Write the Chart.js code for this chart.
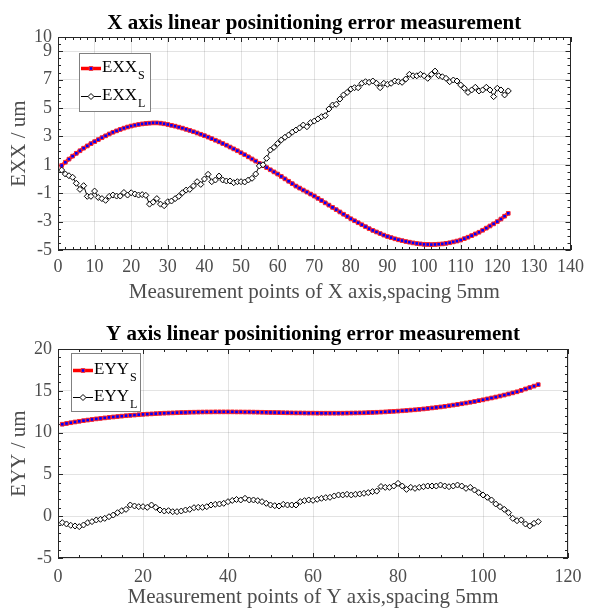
<!DOCTYPE html>
<html>
<head>
<meta charset="utf-8">
<script src="https://cdn.jsdelivr.net/npm/chart.js@4.4.1/dist/chart.umd.min.js"></script>
<style>
  body { margin: 0; background: #fff; }
  canvas { display: block; }
</style>
</head>
<body>
<canvas id="chartX" width="590" height="305"></canvas>
<canvas id="chartY" width="590" height="305"></canvas>
<script>
// X axis: errors at measurement points 1..123
const exxS = [
  0.95, 1.18, 1.40, 1.61, 1.81, 1.99, 2.17, 2.33, 2.49, 2.63,
  2.77, 2.91, 3.04, 3.17, 3.29, 3.39, 3.49, 3.58, 3.66, 3.73,
  3.79, 3.84, 3.88, 3.91, 3.93, 3.95, 3.95, 3.93, 3.89, 3.84,
  3.78, 3.72, 3.65, 3.58, 3.50, 3.42, 3.33, 3.24, 3.15, 3.05,
  2.95, 2.84, 2.73, 2.62, 2.50, 2.38, 2.25, 2.12, 1.99, 1.85,
  1.71, 1.56, 1.41, 1.26, 1.10, 0.95, 0.80, 0.65, 0.50, 0.35,
  0.18, 0.01, -0.16, -0.33, -0.50, -0.64, -0.78, -0.92, -1.06, -1.20,
  -1.36, -1.52, -1.68, -1.84, -2.00, -2.16, -2.32, -2.48, -2.64, -2.80,
  -2.94, -3.08, -3.22, -3.36, -3.50, -3.62, -3.73, -3.84, -3.95, -4.05,
  -4.13, -4.21, -4.28, -4.34, -4.40, -4.45, -4.50, -4.54, -4.57, -4.60,
  -4.61, -4.62, -4.61, -4.59, -4.57, -4.53, -4.49, -4.43, -4.37, -4.30,
  -4.20, -4.10, -3.99, -3.87, -3.75, -3.61, -3.46, -3.31, -3.16, -3.00,
  -2.82, -2.62, -2.42
];
const exxL = [
  0.63, 0.35, 0.23, 0.12, -0.30, -0.73, -0.47, -1.22, -1.22, -0.85,
  -1.30, -1.38, -1.50, -1.22, -1.13, -1.20, -1.20, -0.95, -1.13, -0.97,
  -1.06, -1.13, -1.10, -1.15, -1.77, -1.63, -1.38, -1.77, -1.88, -1.60,
  -1.55, -1.38, -1.22, -0.97, -0.78, -0.73, -0.49, -0.19, -0.38, 0.00,
  0.33, -0.19, -0.07, 0.21, -0.07, -0.14, -0.14, -0.26, -0.19, -0.19,
  -0.21, -0.07, 0.05, 0.35, 0.92, 1.00, 1.46, 2.04, 2.23, 2.50,
  2.75, 2.94, 3.10, 3.30, 3.45, 3.60, 3.80, 3.68, 3.97, 4.08,
  4.23, 4.39, 4.46, 4.93, 5.21, 5.26, 5.63, 5.92, 6.10, 6.34,
  6.43, 6.43, 6.74, 6.85, 6.81, 6.90, 6.74, 6.43, 6.74, 6.67,
  6.74, 6.90, 6.85, 6.81, 7.04, 7.37, 7.27, 7.27, 7.37, 7.27,
  7.09, 7.37, 7.60, 7.27, 7.20, 7.09, 6.85, 6.97, 6.90, 6.62,
  6.39, 6.10, 6.27, 6.46, 6.20, 6.27, 6.46, 6.27, 5.80, 6.39,
  6.27, 5.92, 6.20
];

// Y axis: errors at measurement points 1..113
const eyyS = [
  11.00, 11.09, 11.18, 11.27, 11.35, 11.43, 11.50, 11.57, 11.64, 11.70,
  11.76, 11.82, 11.87, 11.92, 11.97, 12.02, 12.06, 12.10, 12.14, 12.18,
  12.21, 12.24, 12.27, 12.30, 12.32, 12.34, 12.36, 12.38, 12.40, 12.41,
  12.43, 12.44, 12.45, 12.46, 12.47, 12.47, 12.48, 12.48, 12.48, 12.48,
  12.48, 12.47, 12.47, 12.46, 12.46, 12.45, 12.44, 12.43, 12.42, 12.41,
  12.40, 12.39, 12.38, 12.37, 12.36, 12.35, 12.35, 12.34, 12.33, 12.33,
  12.32, 12.32, 12.32, 12.32, 12.32, 12.32, 12.32, 12.33, 12.34, 12.35,
  12.36, 12.37, 12.39, 12.41, 12.43, 12.45, 12.48, 12.51, 12.54, 12.57,
  12.61, 12.65, 12.69, 12.73, 12.78, 12.83, 12.89, 12.95, 13.01, 13.07,
  13.14, 13.21, 13.29, 13.37, 13.45, 13.54, 13.63, 13.72, 13.82, 13.92,
  14.03, 14.14, 14.25, 14.37, 14.49, 14.62, 14.75, 14.88, 15.05, 15.22,
  15.39, 15.56, 15.74
];
const eyyL = [
  -0.77, -0.93, -1.09, -1.17, -1.25, -1.05, -0.77, -0.65, -0.45, -0.37,
  -0.26, -0.06, 0.14, 0.42, 0.66, 0.82, 1.34, 1.22, 1.14, 1.14,
  1.06, 1.34, 1.06, 0.74, 0.62, 0.66, 0.54, 0.54, 0.62, 0.74,
  0.82, 1.02, 1.06, 1.06, 1.14, 1.34, 1.42, 1.46, 1.54, 1.74,
  1.88, 2.00, 1.94, 2.14, 1.94, 1.94, 1.86, 1.74, 1.54, 1.34,
  1.26, 1.22, 1.42, 1.34, 1.34, 1.34, 1.74, 1.86, 1.94, 1.90,
  2.02, 2.14, 2.22, 2.26, 2.42, 2.54, 2.54, 2.62, 2.54, 2.62,
  2.66, 2.74, 2.82, 2.94, 3.00, 3.55, 3.45, 3.45, 3.61, 3.93,
  3.61, 3.21, 3.45, 3.33, 3.45, 3.53, 3.61, 3.61, 3.61, 3.73,
  3.61, 3.53, 3.61, 3.73, 3.61, 3.33, 3.45, 3.13, 2.82, 2.54,
  2.26, 1.94, 1.46, 1.14, 0.82, 0.42, -0.26, -0.54, -0.45, -0.93,
  -1.17, -0.85, -0.65
];

const xTicksX = [0, 10, 20, 30, 40, 50, 60, 70, 80, 90, 100, 110, 120, 130, 140];
const yTicksX = [-5, -3, -1, 1, 3, 5, 7, 9, 10];
const xTicksY = [0, 20, 40, 60, 80, 100, 120];
const yTicksY = [-5, 0, 5, 10, 15, 20];

Chart.defaults.font.family = "'Liberation Serif', 'Times New Roman', serif";

// title centred over the plot box (matlab style)
const areaTitle = {
  id: 'areaTitle',
  afterDraw(chart, args, o) {
    const { ctx, chartArea: a } = chart;
    ctx.save();
    ctx.font = "bold 21px 'Liberation Serif'";
    ctx.fillStyle = '#000';
    ctx.textAlign = 'center';
    ctx.textBaseline = 'alphabetic';
    ctx.fillText(o.text, (a.left + a.right) / 2, o.y);
    ctx.restore();
  }
};

// box around the axes with inward ticks on all four sides
const frameTicks = {
  id: 'frameTicks',
  beforeDatasetsDraw(chart, args, o) {
    const { ctx, chartArea: a, scales } = chart;
    const sx = scales.x, sy = scales.y;
    ctx.save();
    ctx.strokeStyle = '#262626';
    ctx.lineWidth = 1;
    ctx.beginPath();
    const vmark = (v, len) => {
      const px = Math.round(sx.getPixelForValue(v)) + 0.5;
      ctx.moveTo(px, a.bottom); ctx.lineTo(px, a.bottom - len);
      ctx.moveTo(px, a.top); ctx.lineTo(px, a.top + len);
    };
    const hmark = (v, len) => {
      const py = Math.round(sy.getPixelForValue(v)) + 0.5;
      ctx.moveTo(a.left, py); ctx.lineTo(a.left + len, py);
      ctx.moveTo(a.right, py); ctx.lineTo(a.right - len, py);
    };
    for (let v = sx.min; v <= sx.max + 1e-6; v += o.xMinor) vmark(v, 3);
    for (let v = sy.min; v <= sy.max + 1e-6; v += o.yMinor) hmark(v, 3);
    sx.ticks.forEach(t => vmark(t.value, 5));
    sy.ticks.forEach(t => hmark(t.value, 5));
    ctx.stroke();
    ctx.strokeRect(Math.round(a.left) + 0.5, Math.round(a.top) + 0.5,
      Math.round(a.width) - 1, Math.round(a.height) - 1);
    ctx.restore();
  }
};

// legend box with subscripted names
const boxLegend = {
  id: 'boxLegend',
  afterDatasetsDraw(chart, args, o) {
    const { ctx, chartArea: a } = chart;
    const x0 = Math.round(a.left + o.dx), y0 = Math.round(a.top + o.dy);
    ctx.save();
    ctx.fillStyle = '#fff';
    ctx.fillRect(x0, y0, o.w, o.h);
    ctx.strokeStyle = '#808080';
    ctx.lineWidth = 1;
    ctx.strokeRect(x0 + 0.5, y0 + 0.5, o.w, o.h);
    chart.data.datasets.forEach((ds, i) => {
      const cy = Math.round(y0 + o.rows[i]) + 0.5;
      ctx.strokeStyle = ds.borderColor;
      ctx.lineWidth = ds.borderWidth;
      ctx.beginPath();
      ctx.moveTo(x0 + 2, cy);
      ctx.lineTo(x0 + 22, cy);
      ctx.stroke();
      const mx = x0 + 12, r = ds.pointRadius;
      ctx.beginPath();
      if (ds.pointStyle === 'rect') {
        const h = r * Math.SQRT1_2;
        ctx.rect(mx - h, cy - h, 2 * h, 2 * h);
      } else {
        ctx.moveTo(mx - r, cy); ctx.lineTo(mx, cy - r);
        ctx.lineTo(mx + r, cy); ctx.lineTo(mx, cy + r);
        ctx.closePath();
      }
      ctx.fillStyle = ds.pointBackgroundColor;
      ctx.fill();
      ctx.strokeStyle = ds.pointBorderColor;
      ctx.lineWidth = ds.pointBorderWidth;
      ctx.stroke();
      const parts = ds.label.split('_');
      ctx.fillStyle = '#000';
      ctx.textBaseline = 'alphabetic';
      ctx.font = "17px 'Liberation Serif'";
      ctx.fillText(parts[0], x0 + 23, cy + 3);
      const w = ctx.measureText(parts[0]).width;
      ctx.font = "12px 'Liberation Serif'";
      ctx.fillText(parts[1], x0 + 23 + w + 1, cy + 10);
    });
    ctx.restore();
  }
};

function points(arr) {
  return arr.map((v, i) => ({ x: i + 1, y: v }));
}

function makeChart(id, c) {
  const tickFont = { size: 18 };
  const titleFont = { size: 21 };
  return new Chart(document.getElementById(id), {
    type: 'line',
    data: {
      datasets: [
        {
          label: c.names[0], data: points(c.s), order: 2,
          borderColor: '#ff0000', borderWidth: 3.5,
          pointStyle: 'rect', pointRadius: 2.6,
          pointBackgroundColor: '#0000ff', pointBorderColor: '#ff2a2a', pointBorderWidth: 1
        },
        {
          label: c.names[1], data: points(c.l), order: 1,
          borderColor: '#000000', borderWidth: 1,
          pointStyle: 'rectRot', pointRadius: 3,
          pointBackgroundColor: '#ffffff', pointBorderColor: '#000000', pointBorderWidth: 1
        }
      ]
    },
    options: {
      responsive: false,
      animation: false,
      devicePixelRatio: 1,
      layout: { padding: { top: c.top, right: c.right, left: 0, bottom: 0 } },
      plugins: {
        legend: { display: false },
        tooltip: { enabled: false },
        areaTitle: { text: c.title, y: c.titleY },
        frameTicks: { xMinor: c.xMinor, yMinor: c.yMinor },
        boxLegend: c.legend
      },
      scales: {
        x: {
          type: 'linear', min: c.xTicks[0], max: c.xTicks[c.xTicks.length - 1],
          afterBuildTicks: s => { s.ticks = c.xTicks.map(v => ({ value: v })); },
          afterFit: s => { s.height = c.xh; },
          grid: { color: 'rgba(38,38,38,0.13)', drawTicks: false },
          border: { display: false },
          ticks: { font: tickFont, color: '#4d4d4d', padding: c.xPad, autoSkip: false, maxRotation: 0 },
          title: { display: true, text: c.xTitle, font: titleFont, color: '#4d4d4d', padding: { top: 0, bottom: 0 } }
        },
        y: {
          type: 'linear', min: c.yTicks[0], max: c.yTicks[c.yTicks.length - 1],
          afterBuildTicks: s => { s.ticks = c.yTicks.map(v => ({ value: v })); },
          afterFit: s => { s.width = 58; },
          grid: { color: 'rgba(38,38,38,0.13)', drawTicks: false },
          border: { display: false },
          ticks: { font: tickFont, color: '#4d4d4d', padding: 6, autoSkip: false },
          title: { display: true, text: c.yTitle, font: titleFont, color: '#4d4d4d', padding: { top: 7, bottom: 0 } }
        }
      }
    },
    plugins: [frameTicks, boxLegend, areaTitle]
  });
}

makeChart('chartX', {
  s: exxS, l: exxL, names: ['EXX_S', 'EXX_L'],
  xTicks: xTicksX, yTicks: yTicksX, xMinor: 2, yMinor: 0.5,
  title: 'X axis linear posinitioning error measurement', titleY: 29,
  xTitle: 'Measurement points of X axis,spacing 5mm', yTitle: 'EXX / um',
  top: 37, right: 15, xh: 55, xPad: 6,
  legend: { dx: 21, dy: 16, w: 71, h: 58, rows: [15, 43] }
});

makeChart('chartY', {
  s: eyyS, l: eyyL, names: ['EYY_S', 'EYY_L'],
  xTicks: xTicksY, yTicks: yTicksY, xMinor: 5, yMinor: 1,
  title: 'Y axis linear posinitioning error measurement', titleY: 35,
  xTitle: 'Measurement points of Y axis,spacing 5mm', yTitle: 'EYY / um',
  top: 44, right: 22, xh: 52, xPad: 8,
  legend: { dx: 13, dy: 4, w: 69, h: 58, rows: [17, 44] }
});
</script>
</body>
</html>
